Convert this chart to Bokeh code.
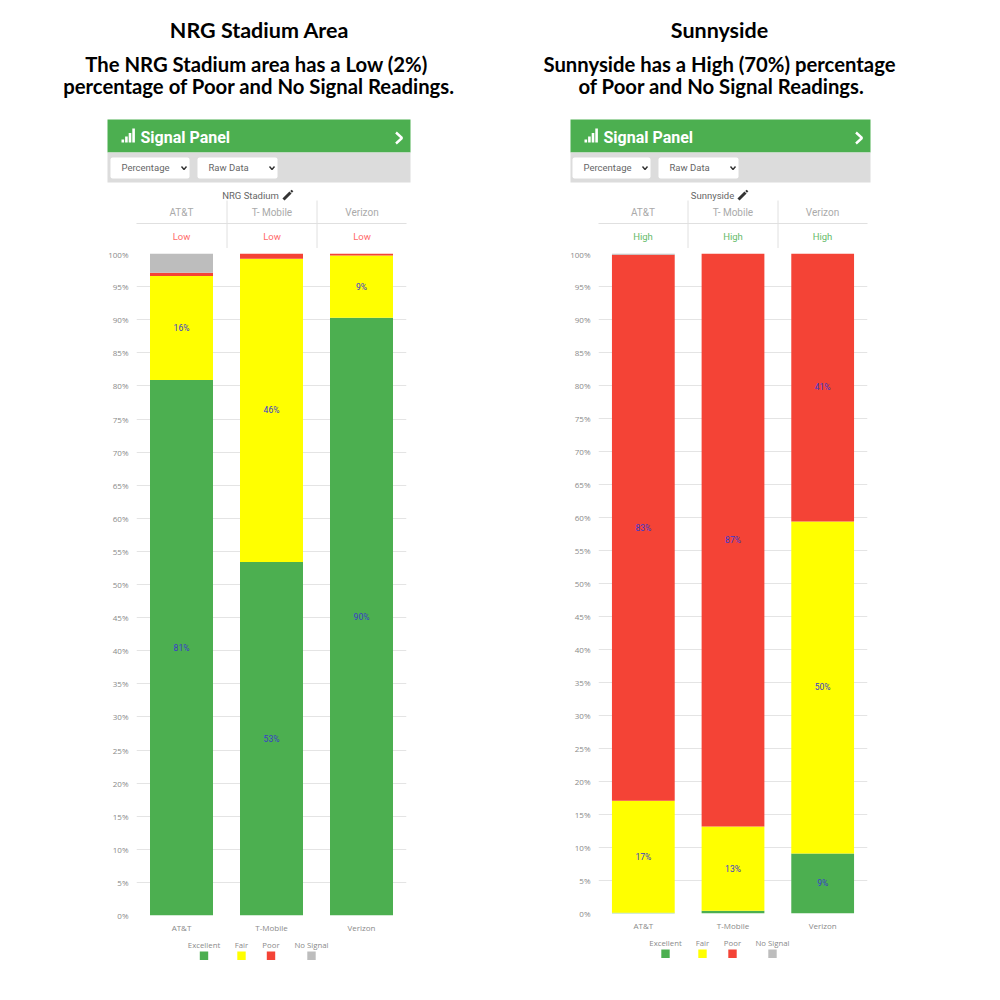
from bokeh.core.properties import value
from bokeh.embed import file_html
from bokeh.layouts import column, row
from bokeh.models import ColumnDataSource, FactorRange, FixedTicker, PrintfTickFormatter, Range1d
from bokeh.plotting import figure
from bokeh.resources import INLINE

carriers = ["AT&T", "T-Mobile", "Verizon"]
table_names = ["AT&T", "T- Mobile", "Verizon"]
levels = ["Excellent", "Fair", "Poor", "No Signal"]
colors = ["#4caf50", "#ffff00", "#f44336", "#bdbdbd"]

nrg_excellent = [80.9, 53.4, 90.3]
nrg_fair = [15.7, 45.8, 9.4]
nrg_poor = [0.5, 0.8, 0.3]
nrg_none = [2.9, 0.0, 0.0]
nrg_rating = ["Low", "Low", "Low"]

sun_excellent = [0.1, 0.4, 9.1]
sun_fair = [17.0, 12.8, 50.3]
sun_poor = [82.7, 86.8, 40.6]
sun_none = [0.2, 0.0, 0.0]
sun_rating = ["High", "High", "High"]

y_ticks = list(range(0, 101, 5))

HEAD_FONT = value("Lato")
UI_FONT = value("Roboto")
LEG_FONT = value("Open Sans")
GREY = "#8a8a8a"
HEAD_H = 248
NUDGE = 1


def canvas(x0, x1, y0, y1):
    p = figure(width=x1 - x0, height=y1 - y0, x_range=Range1d(x0, x1), y_range=Range1d(y1 + NUDGE, y0 + NUDGE),
               x_axis_location=None, y_axis_location=None, toolbar_location=None,
               output_backend="svg", min_border=0, outline_line_color=None, frame_align=False)
    p.grid.visible = False
    return p


def txt(p, x, y, s, size, color="#000000", font=UI_FONT, style="normal", align="center"):
    p.text([x], [y], text=[s], text_font=font, text_font_size=value(f"{size}px"), text_color=color,
           text_font_style=style, text_align=align, text_baseline="middle")


def chevron(p, x, y, w, h, color, width):
    p.line([x - w, x, x - w], [y - h, y, y + h], line_color=color, line_width=width)


def header(cfg):
    p = canvas(cfg["x0"], cfg["x1"], 0, HEAD_H)
    txt(p, cfg["title_x"], 30, cfg["title"], cfg["tsize"], font=HEAD_FONT, style="bold")
    txt(p, cfg["l1_x"], 64, cfg["line1"], cfg["ssize"], font=HEAD_FONT, style="bold")
    txt(p, cfg["l2_x"], 86, cfg["line2"], cfg["ssize"], font=HEAD_FONT, style="bold")

    L, R = cfg["panel"]
    p.quad(left=[L], right=[R], top=[120], bottom=[153], fill_color="#4caf50", line_color=None)
    p.quad(left=[L], right=[R], top=[153], bottom=[183], fill_color="#dcdcdc", line_color=None)

    heights = [3, 6, 9.5, 14]
    for i, h in enumerate(heights):
        bx = L + 14 + i * 3.6
        p.quad(left=[bx], right=[bx + 2.6], top=[143 - h], bottom=[143], fill_color="white", line_color=None)
    txt(p, L + 33, 137.5, "Signal Panel", 16, color="white", style="bold", align="left")
    chevron(p, R - 8.5, 138.5, 6, 5.5, "white", 2.4)

    for (a, b), label in zip(cfg["drops"], ["Percentage", "Raw Data"]):
        p.quad(left=[a], right=[b], top=[158], bottom=[179], fill_color="white", line_color=None, border_radius=2)
        txt(p, a + 11, 168, label, 9.5, color="#666666", align="left")
        p.line([b - 8, b - 5.5, b - 3], [167, 170, 167], line_color="#333333", line_width=1.4)

    txt(p, cfg["name_x"], 196, cfg["name"], 9.5, color="#666666")
    px = cfg["pencil_x"]
    p.line([px - 4, px + 3], [200, 193], line_color="#333333", line_width=3)
    p.line([px + 3.6, px + 5], [192.4, 191], line_color="#333333", line_width=2.4)

    g0, g1 = cfg["grid"]
    p.line([g0, g1], [224, 224], line_color="#e0e0e0", line_width=1.2)
    for vx in cfg["vlines"]:
        p.line([vx, vx], [201, 249], line_color="#e0e0e0", line_width=1)
    for cx, nm, rt in zip(cfg["cols"], table_names, cfg["rating"]):
        txt(p, cx, 212.5, nm, 10, color="#aaaaaa")
        txt(p, cx, 237, rt, 9.5, color=cfg["rating_color"])
    return p


def chart(cfg):
    p = figure(width=cfg["x1"] - cfg["x0"], height=cfg["chart_h"], x_range=FactorRange(*carriers),
               y_range=Range1d(0, 100), toolbar_location=None, output_backend="svg", outline_line_color=None,
               frame_align=False, min_border_left=cfg["grid"][0] - cfg["x0"],
               min_border_right=cfg["x1"] - cfg["grid"][1], min_border_top=5, min_border_bottom=24)
    data = {"carrier": carriers}
    for lv, vals in zip(levels, cfg["values"]):
        data[lv] = vals
    p.vbar_stack(levels, x="carrier", width=0.7, color=colors, line_color=None, source=ColumnDataSource(data))

    xs, ys, labels = [], [], []
    for i, c in enumerate(carriers):
        base = 0.0
        for vals in cfg["values"]:
            v = vals[i]
            if v >= 5:
                xs.append(c)
                ys.append(base + v / 2)
                labels.append(f"{round(v)}%")
            base += v
    p.text(xs, ys, text=labels, text_font=UI_FONT, text_font_size=value("8.5px"), text_color="#3a3acc",
           text_align="center", text_baseline="middle")

    p.xgrid.visible = False
    p.ygrid.ticker = FixedTicker(ticks=y_ticks)
    p.ygrid.grid_line_color = "#e4e4e4"
    p.ygrid.grid_line_width = 1.2
    p.yaxis.ticker = FixedTicker(ticks=y_ticks)
    p.yaxis.formatter = PrintfTickFormatter(format="%d%%")
    for ax in (p.xaxis[0], p.yaxis[0]):
        ax.axis_line_color = None
        ax.major_tick_line_color = None
        ax.minor_tick_line_color = None
        ax.major_label_text_color = GREY
        ax.major_label_text_font = "Open Sans"
        ax.major_label_text_font_size = "8px"
    p.yaxis[0].major_label_standoff = 2
    p.xaxis[0].major_label_standoff = 0
    return p


def footer(cfg):
    top = HEAD_H + cfg["chart_h"]
    p = canvas(cfg["x0"], cfg["x1"], top, 992)
    for lv, col, cx in zip(levels, colors, cfg["legend_x"]):
        txt(p, cx, cfg["leg_y"], lv, 7.8, color=GREY, font=LEG_FONT)
        p.quad(left=[cx - 4.2], right=[cx + 4.2], top=[cfg["leg_y"] + 7], bottom=[cfg["leg_y"] + 15.5],
               fill_color=col, line_color=None)
    return p


nrg = dict(x0=0, x1=500, title="NRG Stadium Area", title_x=259, tsize=21.5,
           line1="The NRG Stadium area has a Low (2%)", l1_x=256,
           line2="percentage of Poor and No Signal Readings.", l2_x=258.5, ssize=20.3,
           panel=(107, 410), drops=[(110, 189), (197, 277)], name="NRG Stadium", name_x=250, pencil_x=287,
           grid=(136, 406), vlines=[226.5, 316.5], cols=[181, 271.5, 361.5], rating=nrg_rating,
           rating_color="#ff6b6b", chart_h=691,
           values=[nrg_excellent, nrg_fair, nrg_poor, nrg_none],
           legend_x=[203.5, 241, 270.5, 311], leg_y=945)
sun = dict(x0=500, x1=992, title="Sunnyside", title_x=719, tsize=21.5,
           line1="Sunnyside has a High (70%) percentage", l1_x=719,
           line2="of Poor and No Signal Readings.", l2_x=721, ssize=20.3,
           panel=(570, 870), drops=[(572, 650), (658, 738)], name="Sunnyside", name_x=712, pencil_x=742,
           grid=(598, 867), vlines=[687.5, 777.5], cols=[642.5, 732.5, 822], rating=sun_rating,
           rating_color="#66bb6a", chart_h=689,
           values=[sun_excellent, sun_fair, sun_poor, sun_none],
           legend_x=[665, 702, 732, 772], leg_y=943)

cols = [column(header(c), chart(c), footer(c), spacing=0) for c in (nrg, sun)]
page = row(*cols, spacing=0)
open("out.html", "w").write(file_html(page, INLINE))
